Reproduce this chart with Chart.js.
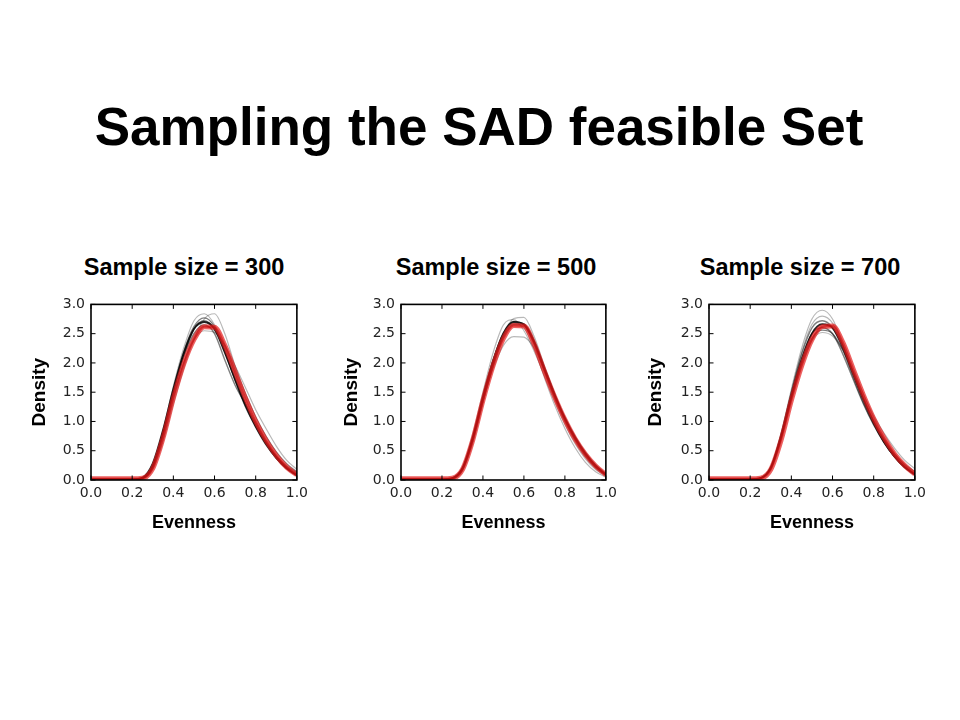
<!DOCTYPE html>
<html>
<head>
<meta charset="utf-8">
<script src="https://cdn.jsdelivr.net/npm/chart.js@4.4.0/dist/chart.umd.min.js"></script>
<style>
  body { margin: 0; background: #fff; }
  #page { position: relative; width: 960px; height: 720px; overflow: hidden; }
  .title { position: absolute; left: 0; width: 958px; top: 100px; text-align: center;
           font: bold 53px/53px "Liberation Sans", Arial, sans-serif; color: #000; }
  .sub { position: absolute; width: 300px; top: 256px; text-align: center;
         font: bold 23.5px/23.5px "Liberation Sans", Arial, sans-serif; color: #000; }
  .panel { position: absolute; top: 290px; height: 250px; }
</style>
</head>
<body>
<div id="page">
  <div class="title">Sampling the SAD feasible Set</div>
  <div class="sub" style="left:34px">Sample size = 300</div>
  <div class="sub" style="left:346px">Sample size = 500</div>
  <div class="sub" style="left:650px">Sample size = 700</div>
  <div class="panel" style="left:20px;width:293px"><canvas id="chart300"></canvas></div>
  <div class="panel" style="left:330px;width:292px"><canvas id="chart500"></canvas></div>
  <div class="panel" style="left:640px;width:291px"><canvas id="chart700"></canvas></div>
</div>
<script>
// evenness grid shared by every curve
const evenness = [0, 0.05, 0.1, 0.15, 0.2, 0.25, 0.3, 0.35, 0.4, 0.45, 0.5, 0.55, 0.6, 0.65, 0.7, 0.75, 0.8, 0.85, 0.9, 0.95, 1.0]
const xTicks = [0, 0.2, 0.4, 0.6, 0.8, 1.0]
const yTicks = [0, 0.5, 1.0, 1.5, 2.0, 2.5, 3.0]

// sample size = 300
const red300 = [.02,.02,.02,.02,.02,.03,.2,.72,1.4,1.98,2.4,2.62,2.61,2.3,1.85,1.4,1.0,.68,.42,.22,.09]
const black300 = [.01,.01,.01,.01,.01,.04,.28,.85,1.55,2.16,2.58,2.7,2.58,2.18,1.72,1.28,.92,.62,.38,.2,.08]
const gray300a = [.01,.01,.01,.01,.01,.03,.25,.85,1.6,2.25,2.72,2.84,2.65,2.2,1.72,1.3,.95,.65,.4,.22,.1]
const gray300b = [.01,.01,.01,.01,.01,.02,.18,.65,1.3,1.9,2.4,2.75,2.84,2.5,1.95,1.48,1.08,.75,.48,.28,.14]
const gray300c = [.01,.01,.01,.01,.01,.03,.22,.75,1.42,2.0,2.4,2.55,2.52,2.3,1.9,1.48,1.08,.75,.48,.28,.14]
const gray300d = [.01,.01,.01,.01,.01,.03,.24,.8,1.52,2.18,2.62,2.77,2.62,2.2,1.7,1.25,.9,.6,.37,.2,.08]
const gray300e = [.01,.01,.01,.01,.01,.03,.22,.78,1.48,2.12,2.58,2.72,2.58,2.25,1.8,1.32,.92,.62,.4,.24,.12]
const gray300f = [.01,.01,.01,.01,.01,.02,.2,.7,1.38,2.0,2.45,2.63,2.55,2.3,1.95,1.58,1.2,.88,.58,.34,.18]
const gray300g = [.01,.01,.01,.01,.01,.03,.24,.82,1.5,2.1,2.5,2.65,2.5,2.05,1.62,1.3,.98,.66,.4,.2,.08]

// sample size = 500
const red500 = [.02,.02,.02,.02,.02,.03,.18,.68,1.36,1.96,2.42,2.64,2.63,2.32,1.86,1.42,1.03,.7,.44,.24,.09]
const black500 = [.01,.01,.01,.01,.01,.03,.2,.72,1.42,2.04,2.5,2.7,2.66,2.36,1.9,1.45,1.05,.72,.45,.24,.09]
const gray500a = [.01,.01,.01,.01,.01,.02,.16,.62,1.3,1.95,2.48,2.76,2.78,2.45,1.95,1.48,1.05,.7,.42,.22,.09]
const gray500b = [.01,.01,.01,.01,.01,.03,.22,.78,1.5,2.18,2.65,2.74,2.55,2.2,1.78,1.35,.95,.62,.36,.18,.07]
const gray500c = [.01,.01,.01,.01,.01,.03,.2,.7,1.35,1.9,2.3,2.45,2.44,2.25,1.88,1.45,1.05,.7,.42,.22,.1]
const gray500d = [.01,.01,.01,.01,.01,.03,.2,.72,1.42,2.05,2.52,2.71,2.65,2.33,1.86,1.4,1.0,.67,.4,.21,.08]
const gray500e = [.01,.01,.01,.01,.01,.03,.19,.7,1.38,2.0,2.47,2.68,2.6,2.25,1.75,1.28,.88,.55,.3,.14,.05]
const gray500f = [.01,.01,.01,.01,.01,.02,.17,.66,1.34,1.96,2.44,2.66,2.66,2.38,1.92,1.47,1.07,.74,.47,.26,.11]

// sample size = 700
const red700 = [.02,.02,.02,.02,.02,.03,.18,.68,1.36,1.95,2.4,2.62,2.63,2.35,1.9,1.45,1.05,.72,.45,.25,.1]
const black700 = [.01,.01,.01,.01,.01,.03,.2,.73,1.43,2.05,2.5,2.66,2.6,2.28,1.83,1.38,.98,.66,.41,.22,.09]
const gray700a = [.01,.01,.01,.01,.01,.03,.22,.8,1.55,2.25,2.75,2.9,2.75,2.32,1.82,1.36,.97,.65,.4,.22,.1]
const gray700b = [.01,.01,.01,.01,.01,.03,.21,.77,1.5,2.18,2.66,2.8,2.68,2.3,1.82,1.38,1.0,.68,.42,.24,.11]
const gray700c = [.01,.01,.01,.01,.01,.03,.22,.78,1.5,2.15,2.6,2.72,2.6,2.24,1.76,1.32,.95,.64,.4,.22,.1]
const gray700d = [.01,.01,.01,.01,.01,.03,.2,.72,1.4,2.0,2.42,2.56,2.5,2.22,1.8,1.38,1.0,.7,.45,.27,.14]
const gray700e = [.01,.01,.01,.01,.01,.03,.2,.7,1.36,1.95,2.38,2.52,2.46,2.22,1.86,1.47,1.1,.8,.55,.34,.19]
const gray700f = [.01,.01,.01,.01,.01,.03,.22,.76,1.45,2.08,2.5,2.6,2.5,2.15,1.72,1.3,.94,.64,.4,.22,.1]

const LIGHT = 'rgba(0, 0, 0, 0.28)'
const DARK = 'rgba(0, 0, 0, 0.5)'

const toPoints = (ys) => ys.map((y, i) => ({x: evenness[i], y: y}))

const line = (ys, color, width) => ({
    data: toPoints(ys),
    borderColor: color,
    borderWidth: width,
    pointRadius: 0,
    fill: false,
    cubicInterpolationMode: 'monotone',
})

// frame with inward ticks on all four sides, like the matplotlib original
const framePlugin = {
    id: 'frame',
    afterDatasetsDraw(chart) {
        const {ctx, chartArea: a, scales: {x, y}} = chart
        ctx.save()
        ctx.strokeStyle = '#000'
        ctx.lineWidth = 1
        ctx.beginPath()
        for (const v of xTicks) {
            const px = x.getPixelForValue(v)
            ctx.moveTo(px, a.bottom); ctx.lineTo(px, a.bottom - 4.5)
            ctx.moveTo(px, a.top); ctx.lineTo(px, a.top + 4.5)
        }
        for (const v of yTicks) {
            const py = y.getPixelForValue(v)
            ctx.moveTo(a.left, py); ctx.lineTo(a.left + 4.5, py)
            ctx.moveTo(a.right, py); ctx.lineTo(a.right - 4.5, py)
        }
        ctx.stroke()
        ctx.lineWidth = 1.6
        ctx.strokeRect(a.left, a.top, a.right - a.left, a.bottom - a.top)
        ctx.restore()
    }
}

const tickFont = {family: 'DejaVu Sans', size: 14}

const createPanel = (canvasId, yWidth, densityPad, red, black, lights, darks) => {
    const ctx = document.getElementById(canvasId).getContext('2d')
    const datasets = [
        line(red, 'rgba(200, 10, 10, 0.55)', 2),
        line(red, 'rgba(228, 30, 30, 0.7)', 5),
        line(black, 'rgba(0, 0, 0, 0.85)', 2),
        ...darks.map(d => line(d, DARK, 1.4)),
        ...lights.map(d => line(d, LIGHT, 1.2)),
    ]
    new Chart(ctx, {
        type: 'line',
        data: {datasets: datasets},
        options: {
            responsive: true,
            maintainAspectRatio: false,
            animation: false,
            layout: {padding: {top: 13, right: 15, bottom: 0, left: 0}},
            plugins: {legend: {display: false}, tooltip: {enabled: false}},
            scales: {
                x: {
                    type: 'linear',
                    min: 0, max: 1,
                    afterBuildTicks: (s) => { s.ticks = xTicks.map(v => ({value: v})) },
                    afterFit: (s) => { s.height = 60 },
                    grid: {display: false, drawTicks: false},
                    border: {display: false},
                    ticks: {
                        font: tickFont, color: '#222', padding: 5, maxRotation: 0,
                        callback: (v) => v.toFixed(1),
                    },
                    title: {
                        display: true, text: 'Evenness', color: '#000',
                        font: {family: 'Liberation Sans', size: 18, weight: 'bold'},
                        padding: {top: 0, bottom: 6},
                    },
                },
                y: {
                    min: 0, max: 3,
                    afterBuildTicks: (s) => { s.ticks = yTicks.map(v => ({value: v})) },
                    afterFit: (s) => { s.width = yWidth },
                    grid: {display: false, drawTicks: false},
                    border: {display: false},
                    ticks: {
                        font: tickFont, color: '#222', padding: 6,
                        callback: (v) => v.toFixed(1),
                    },
                    title: {
                        display: true, text: 'Density', color: '#000',
                        font: {family: 'Liberation Sans', size: 19, weight: 'bold'},
                        padding: {top: densityPad, bottom: 0},
                    },
                },
            },
        },
        plugins: [framePlugin],
    })
}

document.addEventListener('DOMContentLoaded', () => {
    createPanel('chart300', 71, 8.1, red300, black300,
        [gray300a, gray300b, gray300c, gray300f], [gray300d, gray300e, gray300g])
    createPanel('chart500', 71, 10.1, red500, black500,
        [gray500a, gray500b, gray500c, gray500e], [gray500d, gray500f])
    createPanel('chart700', 69, 4.1, red700, black700,
        [gray700a, gray700b, gray700e], [gray700c, gray700d, gray700f])
})
</script>
</body>
</html>
